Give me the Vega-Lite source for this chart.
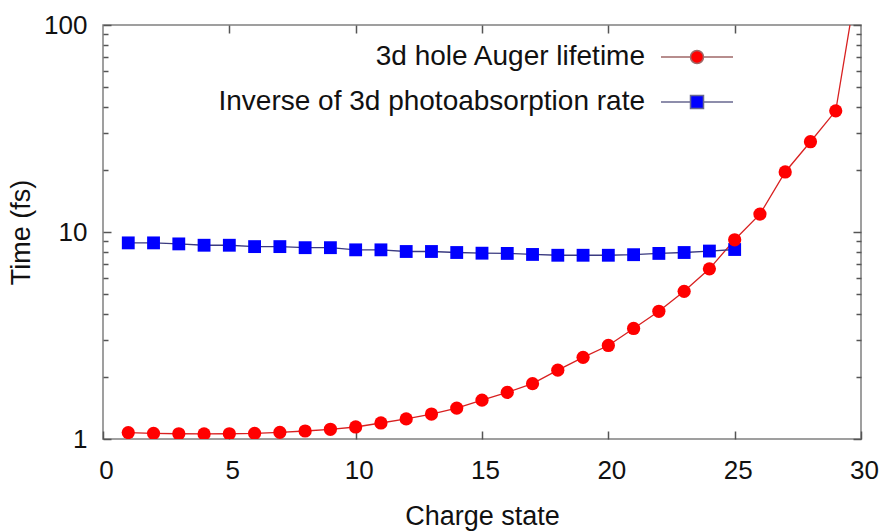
{
  "$schema": "https://vega.github.io/schema/vega-lite/v6.json",
  "width": 758,
  "height": 414,
  "autosize": "none",
  "padding": {"left": 103, "top": 25, "right": 19, "bottom": 92},
  "background": "white",
  "config": {
    "view": {"stroke": "#808080", "strokeWidth": 1.5},
    "font": "Liberation Sans",
    "axis": {"domain": false, "grid": false, "labelFont": "Liberation Sans", "titleFont": "Liberation Sans", "labelColor": "#111", "titleColor": "#111", "tickColor": "#555", "tickWidth": 1.5, "titleFontWeight": "normal"}
  },
  "data": {"values": [
    {"charge": 1, "time": 1.074, "series": "3d hole Auger lifetime"},
    {"charge": 2, "time": 1.065, "series": "3d hole Auger lifetime"},
    {"charge": 3, "time": 1.06, "series": "3d hole Auger lifetime"},
    {"charge": 4, "time": 1.058, "series": "3d hole Auger lifetime"},
    {"charge": 5, "time": 1.06, "series": "3d hole Auger lifetime"},
    {"charge": 6, "time": 1.065, "series": "3d hole Auger lifetime"},
    {"charge": 7, "time": 1.077, "series": "3d hole Auger lifetime"},
    {"charge": 8, "time": 1.093, "series": "3d hole Auger lifetime"},
    {"charge": 9, "time": 1.114, "series": "3d hole Auger lifetime"},
    {"charge": 10, "time": 1.143, "series": "3d hole Auger lifetime"},
    {"charge": 11, "time": 1.195, "series": "3d hole Auger lifetime"},
    {"charge": 12, "time": 1.25, "series": "3d hole Auger lifetime"},
    {"charge": 13, "time": 1.32, "series": "3d hole Auger lifetime"},
    {"charge": 14, "time": 1.41, "series": "3d hole Auger lifetime"},
    {"charge": 15, "time": 1.54, "series": "3d hole Auger lifetime"},
    {"charge": 16, "time": 1.68, "series": "3d hole Auger lifetime"},
    {"charge": 17, "time": 1.85, "series": "3d hole Auger lifetime"},
    {"charge": 18, "time": 2.15, "series": "3d hole Auger lifetime"},
    {"charge": 19, "time": 2.48, "series": "3d hole Auger lifetime"},
    {"charge": 20, "time": 2.83, "series": "3d hole Auger lifetime"},
    {"charge": 21, "time": 3.42, "series": "3d hole Auger lifetime"},
    {"charge": 22, "time": 4.14, "series": "3d hole Auger lifetime"},
    {"charge": 23, "time": 5.17, "series": "3d hole Auger lifetime"},
    {"charge": 24, "time": 6.64, "series": "3d hole Auger lifetime"},
    {"charge": 25, "time": 9.17, "series": "3d hole Auger lifetime"},
    {"charge": 26, "time": 12.2, "series": "3d hole Auger lifetime"},
    {"charge": 27, "time": 19.5, "series": "3d hole Auger lifetime"},
    {"charge": 28, "time": 27.3, "series": "3d hole Auger lifetime"},
    {"charge": 29, "time": 38.5, "series": "3d hole Auger lifetime"},
    {"charge": 30, "time": 210, "series": "3d hole Auger lifetime"},
    {"charge": 1, "time": 8.86, "series": "Inverse of 3d photoabsorption rate"},
    {"charge": 2, "time": 8.86, "series": "Inverse of 3d photoabsorption rate"},
    {"charge": 3, "time": 8.76, "series": "Inverse of 3d photoabsorption rate"},
    {"charge": 4, "time": 8.63, "series": "Inverse of 3d photoabsorption rate"},
    {"charge": 5, "time": 8.63, "series": "Inverse of 3d photoabsorption rate"},
    {"charge": 6, "time": 8.5, "series": "Inverse of 3d photoabsorption rate"},
    {"charge": 7, "time": 8.5, "series": "Inverse of 3d photoabsorption rate"},
    {"charge": 8, "time": 8.4, "series": "Inverse of 3d photoabsorption rate"},
    {"charge": 9, "time": 8.4, "series": "Inverse of 3d photoabsorption rate"},
    {"charge": 10, "time": 8.2, "series": "Inverse of 3d photoabsorption rate"},
    {"charge": 11, "time": 8.2, "series": "Inverse of 3d photoabsorption rate"},
    {"charge": 12, "time": 8.05, "series": "Inverse of 3d photoabsorption rate"},
    {"charge": 13, "time": 8.05, "series": "Inverse of 3d photoabsorption rate"},
    {"charge": 14, "time": 7.96, "series": "Inverse of 3d photoabsorption rate"},
    {"charge": 15, "time": 7.9, "series": "Inverse of 3d photoabsorption rate"},
    {"charge": 16, "time": 7.88, "series": "Inverse of 3d photoabsorption rate"},
    {"charge": 17, "time": 7.79, "series": "Inverse of 3d photoabsorption rate"},
    {"charge": 18, "time": 7.72, "series": "Inverse of 3d photoabsorption rate"},
    {"charge": 19, "time": 7.72, "series": "Inverse of 3d photoabsorption rate"},
    {"charge": 20, "time": 7.72, "series": "Inverse of 3d photoabsorption rate"},
    {"charge": 21, "time": 7.77, "series": "Inverse of 3d photoabsorption rate"},
    {"charge": 22, "time": 7.88, "series": "Inverse of 3d photoabsorption rate"},
    {"charge": 23, "time": 7.96, "series": "Inverse of 3d photoabsorption rate"},
    {"charge": 24, "time": 8.09, "series": "Inverse of 3d photoabsorption rate"},
    {"charge": 25, "time": 8.23, "series": "Inverse of 3d photoabsorption rate"}
  ]},
  "resolve": {"axis": {"x": "independent", "y": "independent"}},
  "layer": [
    {
      "transform": [{"filter": "datum.series == '3d hole Auger lifetime'"}],
      "mark": {"type": "line", "clip": true, "strokeWidth": 1.3, "color": "#d82020"},
      "encoding": {
        "x": {"field": "charge", "type": "quantitative", "scale": {"domain": [0, 30], "nice": false},
          "axis": {"orient": "bottom", "values": [0, 5, 10, 15, 20, 25, 30], "tickSize": -8, "labelPadding": 26, "labelFontSize": 26, "labelOffset": 3, "labelFlush": false, "title": "Charge state", "titleFontSize": 27, "titlePadding": 20}},
        "y": {"field": "time", "type": "quantitative", "scale": {"type": "log", "domain": [1, 100], "nice": false},
          "axis": {"orient": "left", "values": [1, 2, 3, 4, 5, 6, 7, 8, 9, 10, 20, 30, 40, 50, 60, 70, 80, 90, 100],
            "tickSize": {"condition": {"test": "datum.value == 1 || datum.value == 10 || datum.value == 100", "value": -8}, "value": -5},
            "labelExpr": "(datum.value == 1 || datum.value == 10 || datum.value == 100) ? format(datum.value, 'd') : ''",
            "labelPadding": 24, "labelFontSize": 26, "labelFlush": false, "title": "Time (fs)", "titleFontSize": 27, "titlePadding": 8}}
      }
    },
    {
      "transform": [{"filter": "datum.series == 'Inverse of 3d photoabsorption rate'"}],
      "mark": {"type": "line", "clip": true, "strokeWidth": 1.3, "color": "#3a3a80"},
      "encoding": {
        "x": {"field": "charge", "type": "quantitative", "axis": null},
        "y": {"field": "time", "type": "quantitative", "axis": null}
      }
    },
    {
      "transform": [{"filter": "datum.series == 'Inverse of 3d photoabsorption rate'"}],
      "mark": {"type": "point", "shape": "square", "filled": true, "opacity": 1, "size": 165, "clip": true, "color": "#0000ff"},
      "encoding": {
        "x": {"field": "charge", "type": "quantitative", "axis": null},
        "y": {"field": "time", "type": "quantitative", "axis": null}
      }
    },
    {
      "transform": [{"filter": "datum.series == '3d hole Auger lifetime'"}],
      "mark": {"type": "point", "shape": "circle", "filled": true, "opacity": 1, "size": 175, "clip": true},
      "encoding": {
        "x": {"field": "charge", "type": "quantitative",
          "axis": {"orient": "top", "values": [5, 10, 15, 20, 25], "tickSize": -8, "labels": false, "title": null}},
        "y": {"field": "time", "type": "quantitative",
          "axis": {"orient": "right", "values": [1, 2, 3, 4, 5, 6, 7, 8, 9, 10, 20, 30, 40, 50, 60, 70, 80, 90, 100],
            "tickSize": {"condition": {"test": "datum.value == 1 || datum.value == 10 || datum.value == 100", "value": -8}, "value": -5},
            "labels": false, "title": null}},
        "color": {"field": "series", "type": "nominal", "scale": {"domain": ["3d hole Auger lifetime", "Inverse of 3d photoabsorption rate"], "range": ["#ff0000", "#0000ff"]},
          "legend": {"title": null, "orient": "none", "legendX": 580, "legendY": 18, "padding": 0, "labelFontSize": 28, "labelFont": "Liberation Sans", "labelColor": "#111", "labelAlign": "right", "labelOffset": -66, "labelLimit": 600, "rowPadding": 17,
            "symbolSize": 169, "symbolStrokeWidth": 1.5, "symbolOpacity": 1,
            "encode": {"symbols": {"update": {
              "shape": {"signal": "datum.value == '3d hole Auger lifetime' ? 'M-5.54,0L-1,0M1,0L5.54,0M-1,0A1,1 0 1,0 1,0A1,1 0 1,0 -1,0Z' : 'M-5.54,0L-1,0M1,0L5.54,0M-1,-1L1,-1L1,1L-1,1Z'"},
              "fill": {"signal": "datum.value == '3d hole Auger lifetime' ? '#ff0000' : '#0000ff'"},
              "stroke": {"signal": "datum.value == '3d hole Auger lifetime' ? '#a06868' : '#686890'"}
            }}}}}
      }
    }
  ]
}
